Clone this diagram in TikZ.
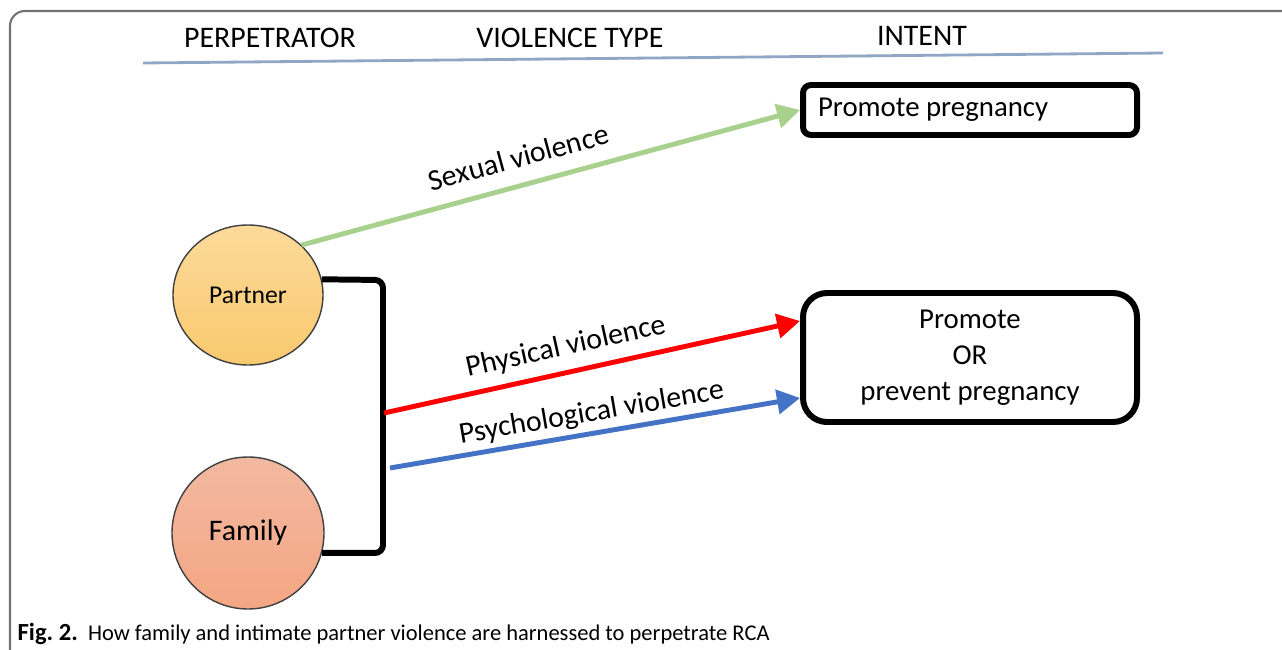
\documentclass[tikz,border=0pt]{standalone}
\usepackage{fontspec}
\setmainfont{Carlito}
\usetikzlibrary{arrows.meta,shapes.geometric}

\definecolor{sexgreen}{HTML}{A9D18E}
\definecolor{psyblue}{HTML}{4472C4}
\definecolor{headrule}{HTML}{8FA6C4}
\definecolor{partnertop}{HTML}{FCDA9A}
\definecolor{partnerbot}{HTML}{F9C96E}
\definecolor{familytop}{HTML}{F2B9A1}
\definecolor{familybot}{HTML}{F4A683}

\begin{document}
\begin{tikzpicture}[
    heading/.style={font=\fontsize{8.5}{10}\selectfont},
    person/.style={ellipse, draw=black!75, line width=0.4pt, inner sep=0pt},
    intent/.style={draw, line width=1.7pt, minimum width=3.34cm,
        font=\fontsize{8.2}{10.2}\selectfont},
    link/.style={line width=1.4pt, -{Triangle[length=0.23cm,width=0.24cm]}},
    vlabel/.style={font=\fontsize{8.5}{10}\selectfont, sloped, above, inner sep=1pt}
]
    \useasboundingbox (0,0) rectangle (12.82,6.49);

    % frame and column headings
    \draw[black!55, line width=0.6pt, rounded corners=0.15cm] (0.10,-0.1) -- (0.10,6.38) -- (12.9,6.38);
    \node[heading] (perp) at (2.70,6.11) {PERPETRATOR};
    \node[heading] (vtype) at (5.70,6.11) {VIOLENCE TYPE};
    \node[heading] (intenthead) at (9.22,6.13) {INTENT};
    \draw[headrule, line width=0.8pt] (1.43,5.86) -- (11.63,5.96);

    % perpetrators
    \node[person, top color=partnertop, bottom color=partnerbot,
        minimum width=1.50cm, minimum height=1.40cm,
        font=\fontsize{7.3}{8}\selectfont] (partner) at (2.48,3.54) {Partner};
    \node[person, top color=familytop, bottom color=familybot,
        minimum width=1.52cm, minimum height=1.52cm,
        font=\fontsize{8.5}{10}\selectfont] (family) at (2.48,1.16) {Family};

    % intents
    \node[intent, minimum height=0.50cm, rounded corners=0.08cm,
        text width=3.04cm, align=flush left, inner xsep=0.15cm] (promote) at (9.70,5.39) {Promote~pregnancy};
    \node[intent, minimum height=1.29cm, rounded corners=0.24cm,
        align=center] (either) at (9.70,2.915) {Promote\\OR\\prevent pregnancy};

    % bracket joining partner and family
    \coordinate (jtop) at (3.83,3.69);
    \coordinate (jbot) at (3.83,0.96);
    \draw[line width=1.7pt, rounded corners=0.08cm] (partner.12) -- (jtop) -- (jbot) -- (family.-15);
    \coordinate (jred) at (3.84,2.36);
    \coordinate (jblue) at (3.90,1.81);

    % violence types
    \draw[link, sexgreen] (partner.43) -- (promote.west)
        node[vlabel, black, pos=0.45, yshift=3.3pt] {Sexual violence};
    \draw[link, red] (jred) -- ([yshift=0.365cm]either.west)
        node[vlabel, black, pos=0.45, yshift=1.8pt] {Physical violence};
    \draw[link, psyblue] (jblue) -- ([yshift=-0.405cm]either.west)
        node[vlabel, black, pos=0.5, yshift=0.3pt] {Psychological violence};

    \node[anchor=west, font=\fontsize{6.4}{8}\selectfont, inner sep=0pt] (caption) at (0.17,0.15)
        {\textbf{\fontsize{7}{8}\selectfont Fig.~2.}\ \ How family and intimate partner violence are harnessed to perpetrate RCA};
\end{tikzpicture}
\end{document}
